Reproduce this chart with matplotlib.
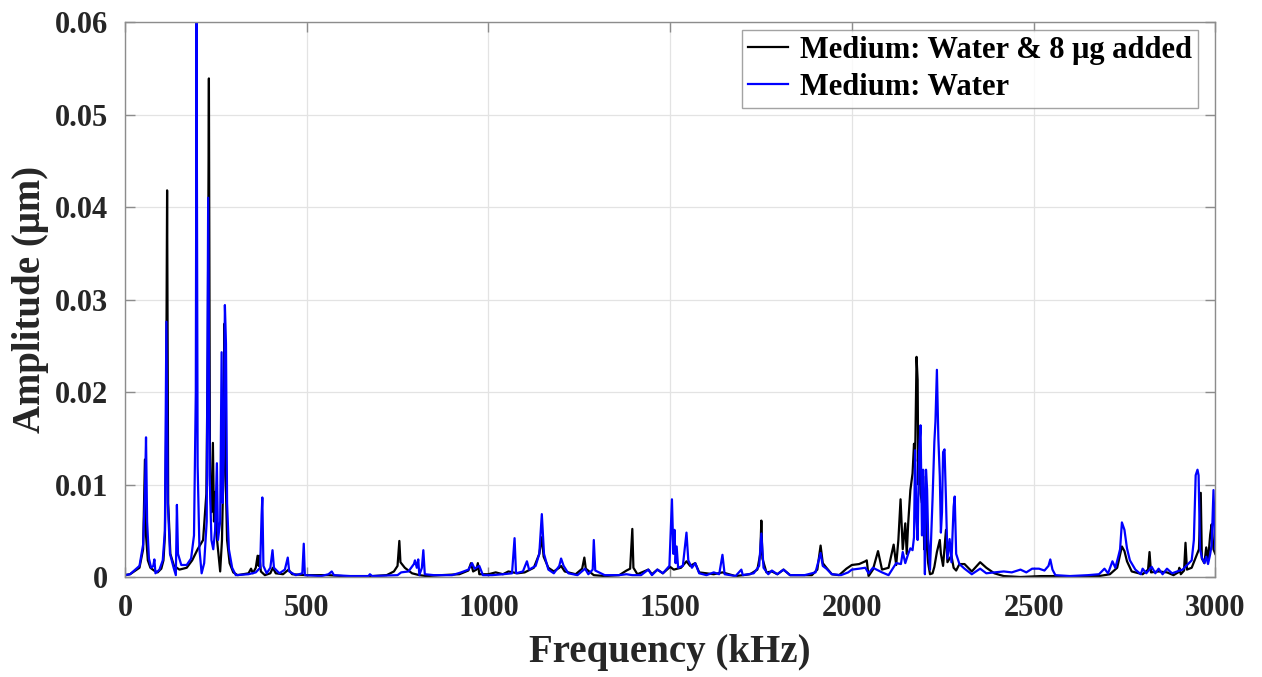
import matplotlib
matplotlib.use("Agg")
import matplotlib.pyplot as plt

# Frequency response, water only (blue) and water + 8 ug added mass (black)
# values: frequency in kHz, amplitude in um

freq_water = [0, 14, 40, 50, 55, 58, 61, 66, 72, 78, 81, 84, 95, 104, 110, 114, 118, 124, 134, 140,
              143, 146, 155, 170, 182, 190, 195, 197, 200, 205, 211, 218, 225, 229, 233, 238, 243, 248,
              253, 256, 262, 266, 269, 272, 275, 278, 281, 286, 295, 305, 340, 360, 372, 376, 378, 381,
              390, 400, 406, 410, 425, 440, 448, 452, 470, 488, 492, 495, 540, 560, 569, 575, 620, 670,
              674, 680, 750, 760, 780, 795, 798, 803, 807, 810, 817, 821, 825, 850, 900, 925, 945, 955,
              962, 975, 985, 1010, 1040, 1065, 1072, 1076, 1095, 1106, 1112, 1130, 1140, 1147, 1153,
              1165, 1180, 1195, 1200, 1207, 1220, 1245, 1260, 1266, 1275, 1287, 1290, 1294, 1320, 1360,
              1380, 1396, 1420, 1440, 1450, 1465, 1480, 1498, 1505, 1509, 1512, 1515, 1518, 1522, 1535,
              1545, 1550, 1560, 1569, 1580, 1600, 1620, 1635, 1644, 1650, 1680, 1696, 1700, 1730, 1745,
              1751, 1757, 1770, 1780, 1795, 1812, 1830, 1870, 1900, 1914, 1920, 1930, 1945, 1970, 1990,
              2000, 2020, 2037, 2046, 2058, 2083, 2101, 2122, 2135, 2140, 2147, 2155, 2161, 2167, 2171,
              2174, 2178, 2181, 2185, 2189, 2193, 2196, 2199, 2201, 2204, 2207, 2210, 2215, 2222, 2227,
              2230, 2234, 2238, 2242, 2245, 2248, 2251, 2255, 2259, 2263, 2269, 2274, 2280, 2283, 2287,
              2296, 2310, 2330, 2353, 2370, 2392, 2418, 2440, 2464, 2480, 2496, 2515, 2530, 2541, 2546,
              2552, 2560, 2600, 2650, 2680, 2695, 2705, 2717, 2725, 2733, 2738, 2743, 2750, 2757, 2765,
              2780, 2795, 2800, 2810, 2825, 2835, 2844, 2855, 2867, 2881, 2895, 2910, 2925, 2935, 2941,
              2946, 2951, 2954, 2958, 2963, 2970, 2975, 2980, 2986, 2990, 2995, 2999, 3000]
amp_water = [0.0002, 0.0003, 0.0012, 0.0035, 0.0090, 0.0151, 0.0060, 0.0020, 0.0010, 0.0012, 0.0019,
             0.0004, 0.0008, 0.0018, 0.0050, 0.0276, 0.0080, 0.0025, 0.0010, 0.0002, 0.0078, 0.0025,
             0.0013, 0.0013, 0.0020, 0.0045, 0.0200, 0.0599, 0.0120, 0.0030, 0.0004, 0.0015, 0.0060,
             0.0410, 0.0110, 0.0040, 0.0030, 0.0050, 0.0123, 0.0040, 0.0060, 0.0243, 0.0080, 0.0130,
             0.0294, 0.0252, 0.0080, 0.0030, 0.0010, 0.0002, 0.0003, 0.0005, 0.0010, 0.0067, 0.0086,
             0.0012, 0.0004, 0.0010, 0.0029, 0.0010, 0.0004, 0.0008, 0.0021, 0.0006, 0.0002, 0.0004,
             0.0036, 0.0002, 0.0001, 0.0003, 0.0006, 0.0002, 0.0001, 0.0001, 0.0003, 0.0001, 0.0002,
             0.0005, 0.0006, 0.0014, 0.0018, 0.0010, 0.0019, 0.0002, 0.0010, 0.0029, 0.0003, 0.0002,
             0.0002, 0.0005, 0.0008, 0.0015, 0.0009, 0.0012, 0.0002, 0.0002, 0.0003, 0.0004, 0.0042,
             0.0004, 0.0006, 0.0017, 0.0008, 0.0012, 0.0025, 0.0068, 0.0025, 0.0008, 0.0004, 0.0012,
             0.0020, 0.0012, 0.0004, 0.0002, 0.0007, 0.0009, 0.0003, 0.0008, 0.0040, 0.0007, 0.0002,
             0.0002, 0.0003, 0.0002, 0.0002, 0.0008, 0.0002, 0.0008, 0.0004, 0.0012, 0.0084, 0.0025,
             0.0051, 0.0015, 0.0033, 0.0010, 0.0012, 0.0048, 0.0018, 0.0010, 0.0015, 0.0004, 0.0002,
             0.0005, 0.0003, 0.0024, 0.0003, 0.0001, 0.0008, 0.0002, 0.0004, 0.0012, 0.0047, 0.0010,
             0.0003, 0.0007, 0.0003, 0.0008, 0.0002, 0.0002, 0.0005, 0.0026, 0.0012, 0.0009, 0.0003,
             0.0002, 0.0005, 0.0008, 0.0009, 0.0010, 0.0004, 0.0010, 0.0005, 0.0002, 0.0015, 0.0014,
             0.0027, 0.0015, 0.0025, 0.0031, 0.0029, 0.0043, 0.0137, 0.0060, 0.0040, 0.0135, 0.0164,
             0.0045, 0.0116, 0.0068, 0.0003, 0.0116, 0.0095, 0.0042, 0.0008, 0.0084, 0.0146, 0.0168,
             0.0224, 0.0150, 0.0109, 0.0048, 0.0070, 0.0135, 0.0138, 0.0083, 0.0020, 0.0041, 0.0016,
             0.0076, 0.0087, 0.0025, 0.0014, 0.0009, 0.0003, 0.0009, 0.0004, 0.0005, 0.0006, 0.0005,
             0.0008, 0.0005, 0.0009, 0.0009, 0.0007, 0.0012, 0.0019, 0.0008, 0.0002, 0.0001, 0.0002,
             0.0003, 0.0009, 0.0004, 0.0017, 0.0010, 0.0022, 0.0030, 0.0059, 0.0051, 0.0031, 0.0018,
             0.0008, 0.0003, 0.0009, 0.0004, 0.0011, 0.0004, 0.0009, 0.0003, 0.0009, 0.0004, 0.0006,
             0.0008, 0.0014, 0.0018, 0.0040, 0.0110, 0.0116, 0.0110, 0.0030, 0.0021, 0.0015, 0.0022,
             0.0014, 0.0025, 0.0035, 0.0094, 0.0040, 0.0030]

freq_added = [0, 14, 40, 50, 55, 58, 63, 70, 80, 90, 100, 106, 110, 113, 116, 119, 125, 135, 150, 170,
              185, 200, 215, 224, 228, 231, 234, 238, 242, 245, 248, 251, 256, 262, 267, 271, 274, 277,
              281, 288, 298, 310, 340, 347, 352, 360, 365, 368, 370, 374, 385, 400, 407, 415, 435, 450,
              460, 500, 560, 600, 680, 720, 740, 750, 755, 758, 770, 790, 810, 830, 870, 920, 945, 952,
              958, 967, 971, 975, 1000, 1020, 1040, 1055, 1080, 1100, 1125, 1140, 1147, 1152, 1165, 1180,
              1195, 1200, 1210, 1240, 1258, 1264, 1268, 1290, 1320, 1360, 1380, 1390, 1393, 1396, 1399,
              1410, 1440, 1450, 1465, 1480, 1500, 1510, 1530, 1545, 1555, 1569, 1580, 1620, 1644, 1680,
              1720, 1740, 1748, 1751, 1754, 1765, 1780, 1795, 1812, 1830, 1890, 1905, 1914, 1920, 1930,
              1945, 1965, 1985, 2000, 2020, 2037, 2041, 2046, 2058, 2072, 2083, 2101, 2115, 2122, 2128,
              2134, 2140, 2147, 2151, 2155, 2161, 2167, 2171, 2174, 2178, 2181, 2183, 2185, 2189, 2193,
              2196, 2199, 2201, 2204, 2207, 2210, 2215, 2222, 2227, 2234, 2242, 2245, 2251, 2259, 2263,
              2269, 2274, 2280, 2287, 2296, 2310, 2330, 2353, 2370, 2392, 2418, 2464, 2520, 2600, 2680,
              2710, 2730, 2743, 2750, 2757, 2770, 2800, 2815, 2819, 2823, 2844, 2867, 2885, 2898, 2901,
              2905, 2914, 2918, 2922, 2935, 2945, 2955, 2960, 2963, 2970, 2975, 2980, 2986, 2990, 2995,
              3000]
amp_added = [0.0002, 0.0003, 0.0010, 0.0030, 0.0127, 0.0045, 0.0018, 0.0010, 0.0007, 0.0005, 0.0009,
             0.0018, 0.0045, 0.0150, 0.0418, 0.0080, 0.0025, 0.0012, 0.0008, 0.0010, 0.0018, 0.0030,
             0.0040, 0.0090, 0.0250, 0.0539, 0.0100, 0.0070, 0.0145, 0.0060, 0.0092, 0.0050, 0.0030,
             0.0006, 0.0040, 0.0120, 0.0274, 0.0110, 0.0040, 0.0015, 0.0005, 0.0002, 0.0004, 0.0009,
             0.0004, 0.0010, 0.0023, 0.0012, 0.0023, 0.0006, 0.0002, 0.0004, 0.0010, 0.0004, 0.0003,
             0.0008, 0.0003, 0.0002, 0.0002, 0.0001, 0.0001, 0.0002, 0.0006, 0.0012, 0.0039, 0.0016,
             0.0010, 0.0004, 0.0002, 0.0001, 0.0002, 0.0003, 0.0007, 0.0015, 0.0006, 0.0008, 0.0015,
             0.0003, 0.0003, 0.0005, 0.0003, 0.0006, 0.0004, 0.0005, 0.0010, 0.0025, 0.0043, 0.0022,
             0.0010, 0.0006, 0.0010, 0.0012, 0.0006, 0.0003, 0.0009, 0.0021, 0.0009, 0.0002, 0.0001,
             0.0002, 0.0007, 0.0009, 0.0030, 0.0052, 0.0010, 0.0003, 0.0008, 0.0003, 0.0008, 0.0004,
             0.0011, 0.0008, 0.0010, 0.0017, 0.0012, 0.0015, 0.0005, 0.0003, 0.0005, 0.0001, 0.0003,
             0.0008, 0.0025, 0.0061, 0.0020, 0.0005, 0.0006, 0.0003, 0.0008, 0.0002, 0.0002, 0.0008,
             0.0034, 0.0015, 0.0010, 0.0003, 0.0002, 0.0009, 0.0013, 0.0014, 0.0017, 0.0018, 0.0001,
             0.0008, 0.0028, 0.0008, 0.0010, 0.0035, 0.0013, 0.0040, 0.0084, 0.0030, 0.0058, 0.0025,
             0.0058, 0.0094, 0.0112, 0.0144, 0.0125, 0.0238, 0.0213, 0.0100, 0.0145, 0.0090, 0.0080,
             0.0109, 0.0030, 0.0050, 0.0094, 0.0030, 0.0015, 0.0003, 0.0004, 0.0011, 0.0027, 0.0040,
             0.0025, 0.0012, 0.0051, 0.0016, 0.0020, 0.0023, 0.0010, 0.0007, 0.0014, 0.0014, 0.0006,
             0.0016, 0.0010, 0.0004, 0.0001, 0.0000, 0.0001, 0.0001, 0.0001, 0.0003, 0.0010, 0.0033,
             0.0028, 0.0017, 0.0006, 0.0003, 0.0008, 0.0027, 0.0005, 0.0006, 0.0005, 0.0002, 0.0005,
             0.0010, 0.0003, 0.0007, 0.0037, 0.0008, 0.0010, 0.0020, 0.0030, 0.0091, 0.0020, 0.0015,
             0.0032, 0.0018, 0.0046, 0.0057, 0.0030, 0.0025]

x_ticks = [0, 500, 1000, 1500, 2000, 2500, 3000]
y_ticks = [0, 0.01, 0.02, 0.03, 0.04, 0.05, 0.06]
y_tick_labels = ["0", "0.01", "0.02", "0.03", "0.04", "0.05", "0.06"]

plt.rcParams['font.family'] = ['Liberation Serif', 'DejaVu Serif']
plt.rcParams['font.weight'] = 'bold'

fig = plt.figure(figsize=(12.62, 6.77), dpi=100)
ax = fig.add_axes([0.099, 0.1477, 0.864, 0.8198])

ax.plot(freq_added, amp_added, color='black', lw=1.6, label='Medium: Water & 8 μg added')
ax.plot(freq_water, amp_water, color='#0000ff', lw=1.6, label='Medium: Water')

ax.set_xlim(0, 3000)
ax.set_ylim(0, 0.06)
ax.set_xticks(x_ticks)
ax.set_yticks(y_ticks)
ax.set_yticklabels(y_tick_labels)

ax.grid(True, color='#e3e3e3', lw=0.9)
ax.set_axisbelow(True)
for s in ax.spines.values():
    s.set_color('#8c8c8c')
    s.set_linewidth(1.0)
ax.tick_params(direction='in', length=7, width=1, colors='#8c8c8c', labelcolor='#262626',
               labelsize=22, top=True, right=True)
ax.tick_params(axis='x', pad=12)
ax.tick_params(axis='y', pad=12)
for lab in ax.get_xticklabels() + ax.get_yticklabels():
    lab.set_fontweight('bold')

ax.set_xlabel('Frequency (kHz)', fontsize=28, fontweight='bold', color='#262626', labelpad=8)
ax.set_ylabel('Amplitude (μm)', fontsize=28, fontweight='bold', color='#262626', labelpad=4)

leg = ax.legend(loc='upper right', frameon=True, fancybox=False,
                handlelength=1.3, handletextpad=0.4, borderpad=0.2, labelspacing=0.25,
                borderaxespad=0.0, bbox_to_anchor=(0.9845, 0.986),
                prop={'weight': 'bold', 'size': 22})
leg.get_frame().set_edgecolor('#8c8c8c')
leg.get_frame().set_linewidth(1.0)

fig.savefig('out.png', dpi=100)
